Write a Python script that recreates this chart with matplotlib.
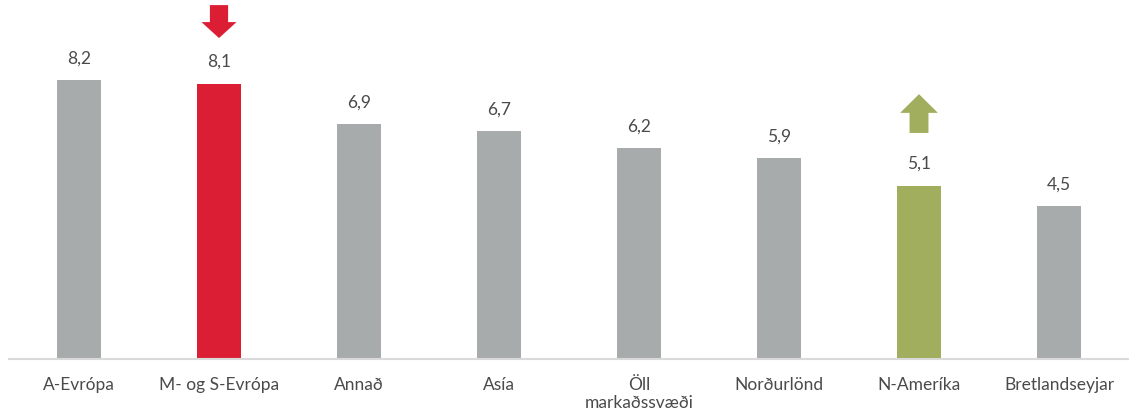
import matplotlib
matplotlib.use("Agg")
import matplotlib.pyplot as plt
from matplotlib.patches import Polygon

categories = ["A-Evrópa", "M- og S-Evrópa", "Annað", "Asía", "Öll\nmarkaðssvæði",
              "Norðurlönd", "N-Ameríka", "Bretlandseyjar"]
values = [8.2, 8.1, 6.9, 6.7, 6.2, 5.9, 5.1, 4.5]
value_labels = ["8,2", "8,1", "6,9", "6,7", "6,2", "5,9", "5,1", "4,5"]

GREY = "#A7ABAB"
RED = "#DC1E35"
GREEN = "#A0AE5E"
TEXT = "#4A4A4A"
colors = [GREY, RED, GREY, GREY, GREY, GREY, GREEN, GREY]

plt.rcParams['font.family'] = ['Lato', 'DejaVu Sans']

fig = plt.figure(figsize=(11.29, 4.15), dpi=100)
ax = fig.add_axes([9/1129, 56/415, 1 - 9/1129, 359/415])
x = list(range(len(categories)))
ax.bar(x, values, width=0.31, color=colors)
ax.set_xlim(-0.5, 7.5)
ax.set_ylim(0, 10.56)

for xi, v, lab in zip(x, values, value_labels):
    ax.text(xi, v + 0.4, lab, ha="center", va="bottom", fontsize=12.5, color=TEXT)

ax.set_xticks(x)
ax.set_xticklabels(categories, fontsize=12.5, color=TEXT, linespacing=1.15, va="top")
ax.tick_params(axis="x", length=0, pad=13)
ax.set_yticks([])
for s in ["top", "right", "left"]:
    ax.spines[s].set_visible(False)
ax.spines["bottom"].set_color("#D9D9D9")
ax.spines["bottom"].set_linewidth(1.5)

def arrow(xc, y_tail, y_headbase, y_tip, shaft_w, head_w, color):
    pts = [(xc - shaft_w/2, y_tail), (xc + shaft_w/2, y_tail),
           (xc + shaft_w/2, y_headbase), (xc + head_w/2, y_headbase),
           (xc, y_tip), (xc - head_w/2, y_headbase), (xc - shaft_w/2, y_headbase)]
    ax.add_patch(Polygon(pts, closed=True, facecolor=color, edgecolor="none", clip_on=False))

# down arrow above M- og S-Evrópa, up arrow above N-Ameríka
arrow(1, 10.41, 9.91, 9.44, 0.13, 0.25, RED)
arrow(6, 6.65, 7.24, 7.79, 0.135, 0.27, GREEN)

fig.savefig("out.png", dpi=100)
